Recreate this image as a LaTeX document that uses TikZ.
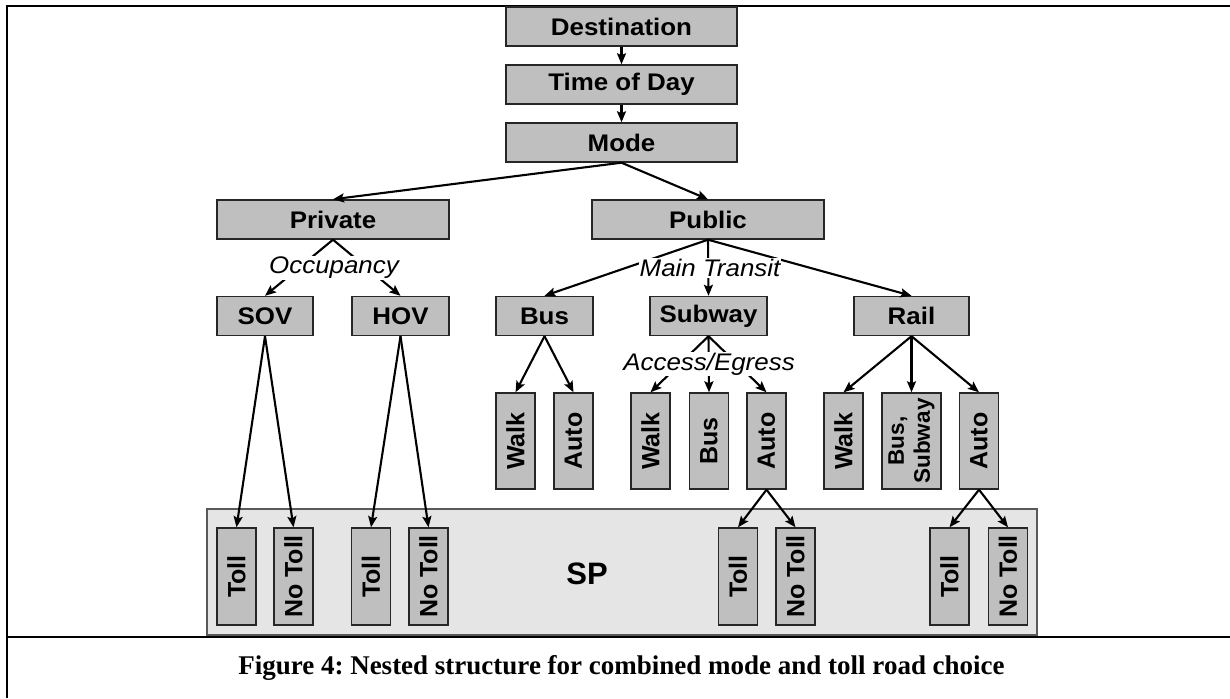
\documentclass[tikz,border=0pt]{standalone}
\usepackage{fontspec}
\setmainfont{Liberation Serif}
\newfontfamily\boxfont[FakeStretch=1.08]{Liberation Sans}
\newfontfamily\upfont{Liberation Sans}
\usetikzlibrary{arrows.meta}
\frenchspacing

\tikzset{
  box/.style={rectangle,draw=black!85,line width=1.4pt,fill=black!25,inner sep=0pt,
    font=\boxfont\bfseries\fontsize{24}{26}\selectfont},
  hbox/.style={box,minimum height=39pt},
  vbox/.style={box,rotate=90,minimum width=96pt,minimum height=39pt,align=center,
    font=\upfont\bfseries\fontsize{25}{25}\selectfont},
  arr/.style={-{Stealth[length=11pt,width=9pt,inset=2pt]},line width=2.1pt},
  nestlabel/.style={fill=white,inner sep=1pt,font=\boxfont\itshape\fontsize{24}{26}\selectfont}
}

\begin{document}
\begin{tikzpicture}[x=1pt,y=-1pt]
\useasboundingbox (0,0) rectangle (1230,698);

% frame of the figure
\draw[line width=2.6pt] (7,698) -- (7,6) -- (1230,6);
\draw[line width=2.6pt] (7,637) -- (1230,637);

% SP block
\node[rectangle,draw=black!65,line width=1.1pt,fill=black!10,minimum width=830pt,minimum height=126pt] (sp) at (622,572) {};
\node[font=\upfont\bfseries\fontsize{31}{32}\selectfont] (splabel) at (587,574) {SP};

% upper levels
\node[hbox,minimum width=231pt] (dest) at (621.5,26.5) {Destination};
\node[hbox,minimum width=231pt] (tod) at (621.5,84.5) {Time of Day};
\node[hbox,minimum width=231pt] (mode) at (621.5,142.5) {Mode};
\node[hbox,minimum width=232pt] (priv) at (333,219.5) {Private};
\node[hbox,minimum width=232pt] (pub) at (708,219.5) {Public};

% occupancy and main transit
\node[hbox,minimum width=96pt] (sov) at (265,316) {SOV};
\node[hbox,minimum width=97pt] (hov) at (400.5,316) {HOV};
\node[hbox,minimum width=97pt] (bus) at (544.5,316) {Bus};
\node[hbox,minimum width=117pt] (subway) at (708.5,316) {Subway};
\node[hbox,minimum width=115pt] (rail) at (911.5,316) {Rail};

% access / egress
\node[vbox] (buswalk) at (515.5,441) {Walk};
\node[vbox] (busauto) at (573.5,441) {Auto};
\node[vbox] (subwalk) at (650.5,441) {Walk};
\node[vbox] (subbus) at (709,441) {Bus};
\node[vbox] (subauto) at (766.5,441) {Auto};
\node[vbox] (railwalk) at (843.5,441) {Walk};
\node[vbox,minimum height=59pt,font=\upfont\bfseries\fontsize{22.5}{26}\selectfont] (railbus) at (911.5,441) {Bus,\\Subway};
\node[vbox] (railauto) at (979,441) {Auto};

% toll choice
\node[vbox,minimum width=97pt] (sovtoll) at (236.5,576.5) {Toll};
\node[vbox,minimum width=97pt] (sovnotoll) at (293.5,576.5) {No Toll};
\node[vbox,minimum width=97pt] (hovtoll) at (371,576.5) {Toll};
\node[vbox,minimum width=97pt] (hovnotoll) at (428.5,576.5) {No Toll};
\node[vbox,minimum width=97pt] (subtoll) at (738,576.5) {Toll};
\node[vbox,minimum width=97pt] (subnotoll) at (795.5,576.5) {No Toll};
\node[vbox,minimum width=97pt] (railtoll) at (949.5,576.5) {Toll};
\node[vbox,minimum width=97pt] (railnotoll) at (1008,576.5) {No Toll};

% connectors
\draw[arr] (dest.south) -- (tod.north);
\draw[arr] (tod.south) -- (mode.north);
\draw[arr] (mode.south) -- (priv.north);
\draw[arr] (mode.south) -- (pub.north);
\draw[arr] (priv.south) -- (sov.north);
\draw[arr] (priv.south) -- (hov.north);
\draw[arr] (pub.south) -- (bus.north);
\draw[arr] (pub.south) -- (subway.north);
\draw[arr] (pub.south) -- (rail.north);
\draw[arr] (bus.south) -- (buswalk.east);
\draw[arr] (bus.south) -- (busauto.east);
\draw[arr] (subway.south) -- (subwalk.east);
\draw[arr] (subway.south) -- (subbus.east);
\draw[arr] (subway.south) -- (subauto.east);
\draw[arr] (rail.south) -- (railwalk.east);
\draw[arr] (rail.south) -- (railbus.east);
\draw[arr] (rail.south) -- (railauto.east);
\draw[arr] (sov.south) -- (sovtoll.east);
\draw[arr] (sov.south) -- (sovnotoll.east);
\draw[arr] (hov.south) -- (hovtoll.east);
\draw[arr] (hov.south) -- (hovnotoll.east);
\draw[arr] (subauto.west) -- (subtoll.east);
\draw[arr] (subauto.west) -- (subnotoll.east);
\draw[arr] (railauto.west) -- (railtoll.east);
\draw[arr] (railauto.west) -- (railnotoll.east);

% nest labels over the lines
\node[nestlabel] (occ) at (334,268) {Occupancy};
\node[nestlabel] (main) at (710,268) {Main Transit};
\node[nestlabel] (acc) at (709,364) {Access/Egress};

% caption
\node[font=\bfseries\fontsize{27}{30}\selectfont] (caption) at (621.5,668) {Figure 4: Nested structure for combined mode and toll road choice};
\end{tikzpicture}
\end{document}
